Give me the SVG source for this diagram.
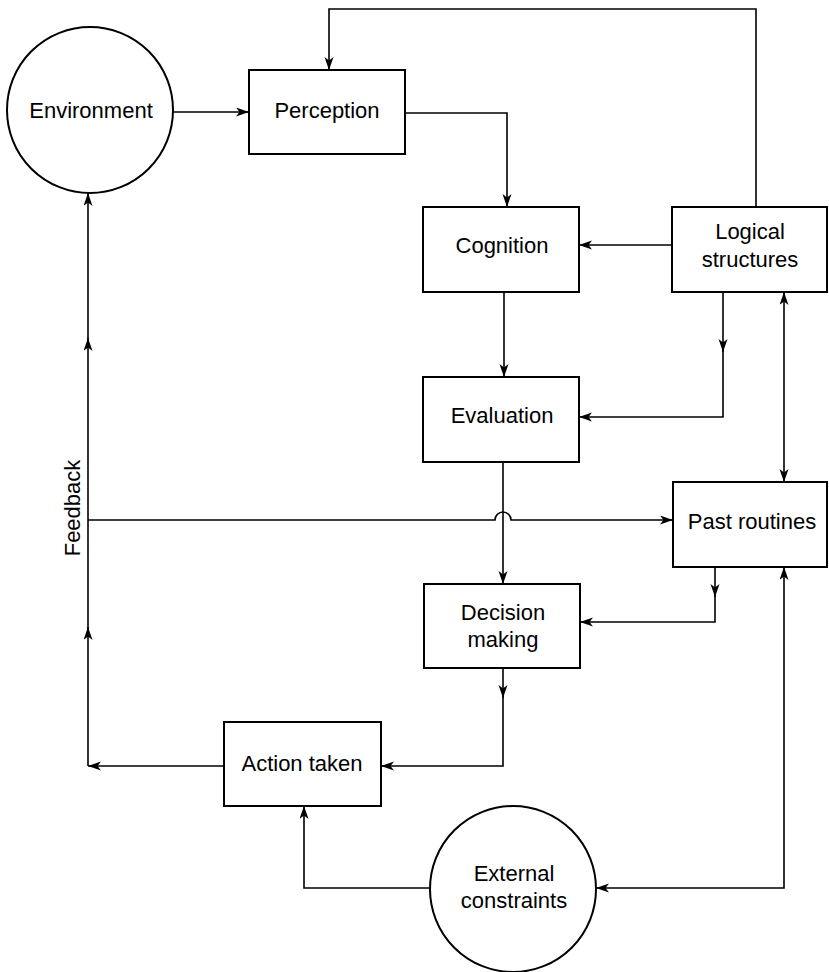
<svg xmlns="http://www.w3.org/2000/svg" width="829" height="972" viewBox="0 0 829 972">
<style>
.box{fill:#fff;stroke:#000;stroke-width:2}
.c{fill:none;stroke:#000;stroke-width:1.6}
.t{font-family:"Liberation Sans",Arial,sans-serif;font-size:22px;fill:#000;text-anchor:middle}
</style>
<defs>
<marker id="ah" markerUnits="userSpaceOnUse" markerWidth="14" markerHeight="10" refX="13" refY="4.5" orient="auto-start-reverse">
<path d="M0,0 L13,4.5 L0,9 L3.5,4.5 z" fill="#000"/>
</marker>
</defs>
<rect width="829" height="972" fill="#fff"/>
<g id="connectors">
<path class="c" d="M173,112 H249" marker-end="url(#ah)"/>
<path class="c" d="M756,207 V9 H329 V70" marker-end="url(#ah)"/>
<path class="c" d="M405,113 H507 V207" marker-end="url(#ah)"/>
<path class="c" d="M672,245 H579" marker-end="url(#ah)"/>
<path class="c" d="M504,292 V377" marker-end="url(#ah)"/>
<path class="c" d="M723,292 V352" marker-end="url(#ah)"/>
<path class="c" d="M723,350 V417 H579" marker-end="url(#ah)"/>
<path class="c" d="M784,292 V482" marker-start="url(#ah)" marker-end="url(#ah)"/>
<path class="c" d="M88,520 H495 A8,8 0 0 1 511,520 H673" marker-end="url(#ah)"/>
<path class="c" d="M503,462 V584" marker-end="url(#ah)"/>
<path class="c" d="M715,567 V597" marker-end="url(#ah)"/>
<path class="c" d="M715,595 V622 H580" marker-end="url(#ah)"/>
<path class="c" d="M503,668 V698" marker-end="url(#ah)"/>
<path class="c" d="M503,696 V766 H381" marker-end="url(#ah)"/>
<path class="c" d="M224,766 H88" marker-end="url(#ah)"/>
<path class="c" d="M88,766 V627" marker-end="url(#ah)"/>
<path class="c" d="M88,629 V338" marker-end="url(#ah)"/>
<path class="c" d="M88,340 V193" marker-end="url(#ah)"/>
<path class="c" d="M430,888 H304 V806" marker-end="url(#ah)"/>
<path class="c" d="M784,567 V888 H596" marker-start="url(#ah)" marker-end="url(#ah)"/>
<text class="t" transform="translate(80,508) rotate(-90)">Feedback</text>
</g>
<g id="environment">
<circle class="box" cx="90" cy="110" r="83"/>
<text class="t" x="91" y="118">Environment</text>
</g>
<g id="perception">
<rect class="box" x="249" y="70" width="156" height="84"/>
<text class="t" x="327" y="118">Perception</text>
</g>
<g id="cognition">
<rect class="box" x="423" y="207" width="156" height="85"/>
<text class="t" x="502" y="253">Cognition</text>
</g>
<g id="logical">
<rect class="box" x="672" y="207" width="155" height="85"/>
<text class="t" x="750" y="239">Logical</text>
<text class="t" x="750" y="267">structures</text>
</g>
<g id="evaluation">
<rect class="box" x="423" y="377" width="156" height="85"/>
<text class="t" x="502" y="423">Evaluation</text>
</g>
<g id="past">
<rect class="box" x="673" y="482" width="154" height="85"/>
<text class="t" x="752" y="529">Past routines</text>
</g>
<g id="decision">
<rect class="box" x="424" y="584" width="156" height="84"/>
<text class="t" x="503" y="620">Decision</text>
<text class="t" x="503" y="647">making</text>
</g>
<g id="action">
<rect class="box" x="224" y="722" width="157" height="84"/>
<text class="t" x="302" y="771">Action taken</text>
</g>
<g id="external">
<circle class="box" cx="513" cy="889" r="83"/>
<text class="t" x="514" y="881">External</text>
<text class="t" x="514" y="908">constraints</text>
</g>
</svg>
